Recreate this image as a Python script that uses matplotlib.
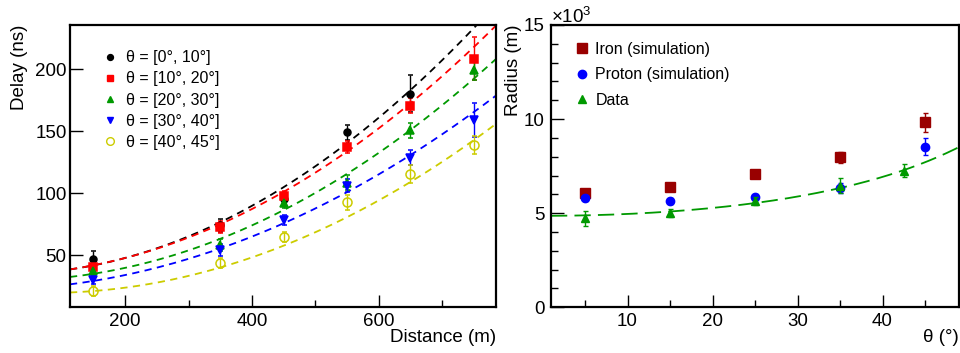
import numpy as np
import matplotlib
matplotlib.use("Agg")
import matplotlib.pyplot as plt
from matplotlib.ticker import MultipleLocator, FixedLocator, FuncFormatter

plt.rcParams['font.family'] = ['Liberation Sans', 'DejaVu Sans']
plt.rcParams['mathtext.fontset'] = 'custom'
plt.rcParams['mathtext.rm'] = 'Liberation Sans'
plt.rcParams['mathtext.it'] = 'Liberation Sans'

# ---------------- Left panel data ----------------
distance = [150, 350, 450, 550, 650, 750]
series_labels = ["θ = [0°, 10°]", "θ = [10°, 20°]", "θ = [20°, 30°]",
                 "θ = [30°, 40°]", "θ = [40°, 45°]"]
delay_0_10 = [47, 74, 95, 149, 180, np.nan]
delay_10_20 = [40.6, 72.6, 98, 137.3, 170.5, 208.5]
delay_20_30 = [37, 58, 92, 108.5, 150.5, 199]
delay_30_40 = [30.4, 54.4, 78.5, 106, 128.5, 159]
delay_40_45 = [21.3, 43.8, 64.5, 92.7, 115.5, 138.7]
err_0_10 = [6, 5, 3, 6, 15, np.nan]
err_10_20 = [4, 5, 4, 5, 6, 17]
err_20_30 = [4, 5, 4, 6, 6, 8]
err_30_40 = [4, 5, 4, 5, 6, 14]
err_40_45 = [4, 4, 4, 6, 7, 7]
# quadratic fit coefficients (c0, c1, c2) for delay = c0 + c1*d + c2*d^2
fit_0_10 = [34.7, -0.0071, 3.62e-4]
fit_10_20 = [33.8, 0.0058, 3.192e-4]
fit_20_30 = [29.8, -0.0107, 3.03e-4]
fit_30_40 = [22.2, 0.011, 2.398e-4]
fit_40_45 = [21.0, -0.0398, 2.695e-4]

# ---------------- Right panel data ----------------
theta_sim = [5, 15, 25, 35, 45]
radius_iron = [6060, 6410, 7090, 7960, 9840]
err_iron = [150, 150, 200, 300, 500]
radius_proton = [5830, 5650, 5880, 6330, 8540]
err_proton = [200, 150, 150, 250, 450]
theta_data = [5, 15, 25, 35, 42.5]
radius_data = [4730, 5000, 5650, 6470, 7250]
err_data = [400, 200, 200, 400, 350]
fit_R0 = 4860.0
fit_n = 1.33

W, H = 960, 353
fig = plt.figure(figsize=(W / 100, H / 100), dpi=100)

def fx(px):
    return px / W

def fy(py):
    return 1 - py / H

axL = fig.add_axes([fx(70), fy(307.3), fx(496 - 70), fy(25) - fy(307.3)])
axR = fig.add_axes([fx(551), fy(307.3), fx(959 - 551), fy(25) - fy(307.3)])

TICK_FS = 13.5
LABEL_FS = 13.5
LEG_FS = 11.5

colors = ['black', '#ff0000', '#009900', '#0000ff', '#cccc00']
markers = ['o', 's', '^', 'v', 'o']
msizes = [5, 5.5, 5.5, 5.5, 6.5]
ys = [delay_0_10, delay_10_20, delay_20_30, delay_30_40, delay_40_45]
errs = [err_0_10, err_10_20, err_20_30, err_30_40, err_40_45]
fits = [fit_0_10, fit_10_20, fit_20_30, fit_30_40, fit_40_45]

xlimL = (113, 785)
xx = np.linspace(xlimL[0], xlimL[1], 300)
for c, m, ms, y, e, f, lab in zip(colors, markers, msizes, ys, errs, fits, series_labels):
    yy = f[0] + f[1] * xx + f[2] * xx ** 2
    axL.plot(xx, yy, ls=(0, (4, 3)), color=c, lw=1.3, zorder=2)
    face = 'none' if lab == series_labels[-1] else c
    axL.errorbar(distance, y, yerr=e, fmt=m, color=c, mfc=face, mec=c,
                 ms=ms, mew=1.1, elinewidth=1.0, capsize=1.8, capthick=1.0,
                 zorder=3, label=lab)

axL.set_xlim(*xlimL)
axL.set_ylim(8, 235.5)
axL.xaxis.set_major_locator(FixedLocator([200, 400, 600]))
axL.xaxis.set_minor_locator(FixedLocator([300, 500, 700]))
axL.yaxis.set_major_locator(FixedLocator([50, 100, 150, 200]))

axL.legend(handles=[plt.Line2D([], [], ls='none', marker=m, color=c, ms=ms * 0.85,
                               mfc=('none' if i == 4 else c), mec=c, mew=1.0)
                    for i, (c, m, ms) in enumerate(zip(colors, markers, msizes))],
           labels=series_labels, loc='upper left', bbox_to_anchor=(0.08, 0.91),
           frameon=False, fontsize=LEG_FS, handlelength=0.8, handletextpad=0.55,
           labelspacing=0.38, borderaxespad=0, borderpad=0)

# Right panel
theta_fit = np.linspace(1, 49, 300)
axR.plot(theta_fit, fit_R0 / np.cos(np.radians(theta_fit)) ** fit_n,
         ls=(0, (9, 4)), color='#009900', lw=1.3, zorder=2)
axR.errorbar(theta_sim, radius_iron, yerr=err_iron, fmt='s', color='#990000',
             ms=7, elinewidth=1.0, capsize=1.8, zorder=3)
axR.errorbar(theta_sim, radius_proton, yerr=err_proton, fmt='o', color='#0000ff',
             ms=6, elinewidth=1.0, capsize=1.8, zorder=3)
axR.errorbar(theta_data, radius_data, yerr=err_data, fmt='^', color='#009900',
             ms=6, elinewidth=1.0, capsize=1.8, zorder=4)
axR.set_xlim(1, 49)
axR.set_ylim(0, 15000)
axR.xaxis.set_major_locator(MultipleLocator(10))
axR.xaxis.set_minor_locator(MultipleLocator(5))
axR.yaxis.set_major_locator(MultipleLocator(5000))
axR.yaxis.set_minor_locator(MultipleLocator(1000))
axR.yaxis.set_major_formatter(FuncFormatter(lambda v, p: f"{v / 1000:g}"))
axR.legend(handles=[plt.Line2D([], [], ls='none', marker='s', color='#990000', ms=6.5),
                    plt.Line2D([], [], ls='none', marker='o', color='#0000ff', ms=6),
                    plt.Line2D([], [], ls='none', marker='^', color='#009900', ms=6)],
           labels=["Iron (simulation)", "Proton (simulation)", "Data"],
           loc='upper left', bbox_to_anchor=(0.06, 0.94), frameon=False, fontsize=LEG_FS,
           handlelength=0.8, handletextpad=0.45, labelspacing=0.65, borderaxespad=0, borderpad=0)

for ax in (axL, axR):
    for s in ax.spines.values():
        s.set_linewidth(1.6)
    ax.tick_params(which='both', direction='in', top=False, right=False,
                   labelsize=TICK_FS, width=1.0)
    ax.tick_params(which='major', length=9)
    ax.tick_params(which='minor', length=5)
    ax.tick_params(axis='x', pad=4)
axL.tick_params(axis='y', pad=2.5)
axR.tick_params(axis='y', pad=4.5)

fig.text(fx(20), fy(25), "Delay (ns)", rotation=90, ha='center', va='top', fontsize=LABEL_FS)
fig.text(fx(496), fy(338), "Distance (m)", ha='right', va='center', fontsize=LABEL_FS)
fig.text(fx(513), fy(25), "Radius (m)", rotation=90, ha='center', va='top', fontsize=LABEL_FS)
fig.text(fx(959), fy(338), "θ (°)", ha='right', va='center', fontsize=LABEL_FS)
fig.text(fx(551), fy(23), r"×10$^{3}$", ha='left', va='baseline', fontsize=LABEL_FS)

fig.savefig("out.png", dpi=100)
